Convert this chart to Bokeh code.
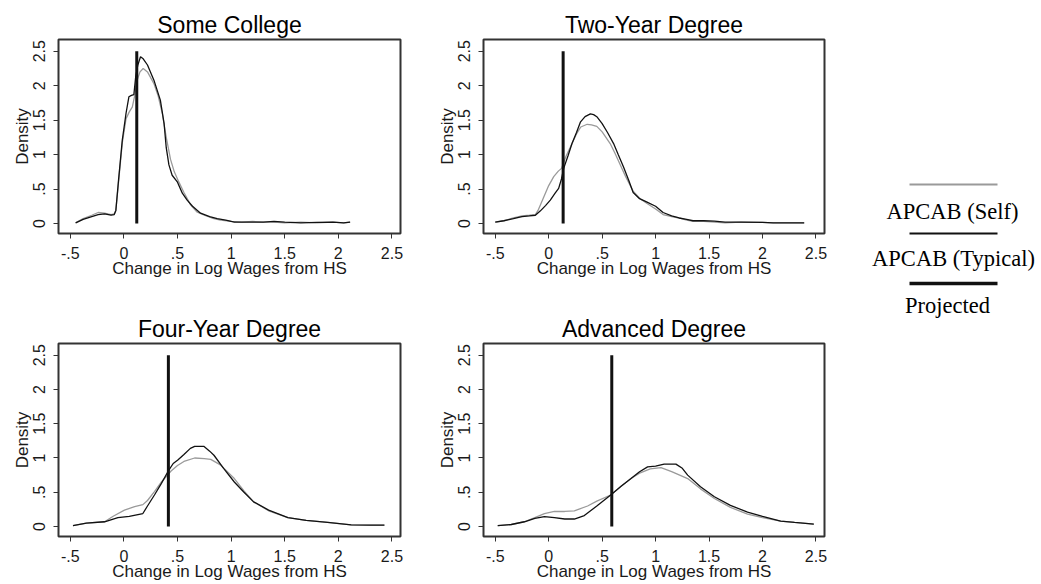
from bokeh.plotting import figure
from bokeh.layouts import row, column
from bokeh.models import Range1d, FixedTicker, CustomJSTickFormatter
from bokeh.embed import file_html
from bokeh.resources import INLINE
from bokeh.core.properties import value

# ---------------- data ----------------
panel_titles = ["Some College", "Two-Year Degree", "Four-Year Degree", "Advanced Degree"]
x_label = "Change in Log Wages from HS"
y_label = "Density"
x_ticks = [-0.5, 0, 0.5, 1, 1.5, 2, 2.5]
y_ticks = [0, 0.5, 1, 1.5, 2, 2.5]
legend_labels = ["APCAB (Self)", "APCAB (Typical)", "Projected"]

# projected (vertical line) values and its vertical extent
projected = [0.12, 0.135, 0.415, 0.59]
projected_top = 2.5

# Some College
sc_typ_x = [-0.45, -0.38, -0.30, -0.24, -0.18, -0.12, -0.09, -0.075, -0.05, -0.015, 0.02, 0.047, 0.07, 0.093,
            0.11, 0.13, 0.155, 0.18, 0.22, 0.28, 0.34, 0.375, 0.395, 0.42, 0.45, 0.50, 0.545, 0.59, 0.64, 0.715,
            0.80, 0.87, 0.95, 1.03, 1.15, 1.3, 1.4, 1.5, 1.65, 1.8, 1.95, 2.05, 2.11]
sc_typ_y = [0.01, 0.06, 0.10, 0.13, 0.14, 0.12, 0.13, 0.19, 0.63, 1.21, 1.60, 1.84, 1.86, 1.87,
            2.13, 2.30, 2.42, 2.39, 2.30, 2.08, 1.79, 1.45, 1.10, 0.85, 0.70, 0.60, 0.44, 0.34, 0.25, 0.15,
            0.10, 0.07, 0.05, 0.02, 0.02, 0.02, 0.03, 0.02, 0.01, 0.015, 0.02, 0.01, 0.02]
sc_self_x = [-0.45, -0.38, -0.30, -0.24, -0.18, -0.12, -0.09, -0.075, -0.05, -0.015, 0.02, 0.05, 0.078, 0.10,
             0.124, 0.15, 0.18, 0.22, 0.28, 0.32, 0.358, 0.395, 0.435, 0.47, 0.513, 0.56, 0.622, 0.68, 0.75,
             0.82, 0.90, 1.0, 1.1, 1.2, 1.3, 1.4, 1.5, 1.65, 1.8, 1.95, 2.05, 2.11]
sc_self_y = [0.01, 0.07, 0.12, 0.16, 0.15, 0.13, 0.14, 0.19, 0.60, 1.17, 1.52, 1.62, 1.69, 1.85,
             2.08, 2.20, 2.25, 2.20, 2.03, 1.85, 1.60, 1.25, 0.93, 0.75, 0.60, 0.45, 0.27, 0.17, 0.12,
             0.08, 0.05, 0.03, 0.02, 0.03, 0.02, 0.02, 0.01, 0.02, 0.01, 0.02, 0.01, 0.02]

# Two-Year Degree
ty_typ_x = [-0.50, -0.42, -0.33, -0.25, -0.18, -0.125, -0.08, -0.03, 0.015, 0.06, 0.093, 0.12, 0.14, 0.18,
            0.218, 0.26, 0.296, 0.34, 0.39, 0.42, 0.45, 0.50, 0.55, 0.607, 0.65, 0.70, 0.75, 0.79, 0.85,
            0.92, 1.0, 1.07, 1.15, 1.22, 1.29, 1.35, 1.45, 1.55, 1.65, 1.8, 2.0, 2.1, 2.2, 2.39]
ty_typ_y = [0.02, 0.04, 0.07, 0.10, 0.11, 0.12, 0.18, 0.26, 0.34, 0.44, 0.51, 0.65, 0.80, 0.98,
            1.16, 1.32, 1.47, 1.55, 1.59, 1.58, 1.55, 1.45, 1.32, 1.16, 1.00, 0.82, 0.62, 0.45, 0.36,
            0.31, 0.25, 0.16, 0.11, 0.08, 0.06, 0.04, 0.04, 0.035, 0.02, 0.02, 0.015, 0.01, 0.01, 0.01]
ty_self_x = [-0.50, -0.42, -0.33, -0.25, -0.18, -0.125, -0.10, -0.05, 0.0, 0.047, 0.09, 0.12, 0.16, 0.218,
             0.26, 0.30, 0.36, 0.40, 0.45, 0.50, 0.575, 0.62, 0.67, 0.72, 0.79, 0.855, 0.92, 1.0, 1.07,
             1.15, 1.22, 1.29, 1.35, 1.45, 1.55, 1.65, 1.8, 2.0, 2.1, 2.2, 2.39]
ty_self_y = [0.02, 0.04, 0.08, 0.11, 0.12, 0.13, 0.19, 0.37, 0.55, 0.68, 0.76, 0.80, 0.97, 1.16,
             1.30, 1.40, 1.44, 1.43, 1.41, 1.33, 1.16, 1.02, 0.85, 0.68, 0.47, 0.36, 0.29, 0.21, 0.13,
             0.10, 0.08, 0.05, 0.03, 0.03, 0.02, 0.01, 0.02, 0.015, 0.01, 0.01, 0.01]

# Four-Year Degree
fy_typ_x = [-0.475, -0.35, -0.18, -0.10, -0.056, 0.05, 0.177, 0.22, 0.285, 0.35, 0.41, 0.46, 0.503, 0.56,
            0.62, 0.66, 0.745, 0.80, 0.84, 0.93, 1.03, 1.12, 1.21, 1.35, 1.53, 1.7, 1.9, 2.12, 2.3, 2.43]
fy_typ_y = [0.015, 0.05, 0.07, 0.11, 0.13, 0.15, 0.19, 0.30, 0.46, 0.63, 0.80, 0.92, 0.97, 1.05,
            1.14, 1.17, 1.17, 1.10, 1.04, 0.85, 0.65, 0.50, 0.36, 0.24, 0.13, 0.09, 0.06, 0.025, 0.02, 0.02]
fy_self_x = [-0.475, -0.35, -0.18, -0.10, 0.005, 0.10, 0.177, 0.22, 0.285, 0.35, 0.44, 0.50, 0.56, 0.66,
             0.75, 0.81, 0.90, 1.03, 1.12, 1.21, 1.35, 1.53, 1.7, 1.9, 2.12, 2.3, 2.43]
fy_self_y = [0.015, 0.05, 0.07, 0.15, 0.24, 0.29, 0.32, 0.38, 0.51, 0.65, 0.81, 0.89, 0.95, 1.00,
             0.99, 0.98, 0.90, 0.70, 0.52, 0.36, 0.23, 0.13, 0.09, 0.06, 0.025, 0.02, 0.02]

# Advanced Degree
ad_typ_x = [-0.477, -0.35, -0.227, -0.13, -0.04, 0.053, 0.15, 0.24, 0.333, 0.45, 0.58, 0.68, 0.77, 0.85,
            0.925, 1.0, 1.08, 1.19, 1.25, 1.30, 1.42, 1.55, 1.70, 1.86, 2.0, 2.17, 2.3, 2.48]
ad_typ_y = [0.015, 0.03, 0.07, 0.12, 0.145, 0.13, 0.11, 0.11, 0.16, 0.30, 0.46, 0.59, 0.70, 0.80,
            0.87, 0.88, 0.91, 0.91, 0.85, 0.75, 0.58, 0.435, 0.31, 0.21, 0.15, 0.08, 0.06, 0.035]
ad_self_x = [-0.477, -0.35, -0.227, -0.13, -0.04, 0.053, 0.15, 0.24, 0.364, 0.45, 0.58, 0.68, 0.77, 0.85,
             0.95, 1.05, 1.15, 1.30, 1.42, 1.55, 1.70, 1.86, 2.0, 2.17, 2.3, 2.48]
ad_self_y = [0.015, 0.03, 0.07, 0.13, 0.19, 0.22, 0.22, 0.23, 0.30, 0.37, 0.46, 0.59, 0.70, 0.78,
             0.84, 0.86, 0.80, 0.70, 0.55, 0.41, 0.28, 0.18, 0.13, 0.08, 0.06, 0.035]

self_series = [(sc_self_x, sc_self_y), (ty_self_x, ty_self_y), (fy_self_x, fy_self_y), (ad_self_x, ad_self_y)]
typ_series = [(sc_typ_x, sc_typ_y), (ty_typ_x, ty_typ_y), (fy_typ_x, fy_typ_y), (ad_typ_x, ad_typ_y)]

# ---------------- style ----------------
SANS = "Liberation Sans"
SERIF = "Liberation Serif"
GRAY = "#9a9a9a"
BLACK = "#111111"

fmt = CustomJSTickFormatter(code="""
var s = String(Math.round(tick*10)/10);
return s.replace(/^(-?)0\\./, '$1.');
""")


def make_panel(i, width, height, mbl, mbr, mbt, mbb):
    p = figure(width=width, height=height, output_backend="svg", toolbar_location=None,
               x_range=Range1d(-0.61, 2.58), y_range=Range1d(-0.145, 2.67),
               min_border_left=mbl, min_border_right=mbr, min_border_top=mbt, min_border_bottom=mbb,
               x_axis_label=x_label, y_axis_label=y_label)
    p.title.text = panel_titles[i]
    p.title.text_font = SANS
    p.title.text_font_size = "23px"
    p.title.text_font_style = "normal"
    p.title.text_color = "#000000"
    p.title.align = "center"
    p.title.standoff = 4
    p.grid.visible = False
    p.outline_line_color = "#333333"
    p.outline_line_width = 2
    p.background_fill_color = "white"
    p.border_fill_color = "white"
    for ax in (p.xaxis[0], p.yaxis[0]):
        ax.axis_line_color = None
        ax.major_tick_out = 5
        ax.major_tick_in = 0
        ax.minor_tick_line_color = None
        ax.major_tick_line_color = "#333333"
        ax.major_tick_line_width = 1
        ax.major_label_text_font = SANS
        ax.major_label_text_font_size = "16px"
        ax.major_label_text_color = "#1a1a1a"
        ax.axis_label_text_font = SANS
        ax.axis_label_text_font_size = "17px"
        ax.axis_label_text_font_style = "normal"
        ax.axis_label_text_color = "#1a1a1a"
        ax.formatter = fmt
    p.xaxis[0].ticker = FixedTicker(ticks=x_ticks)
    p.yaxis[0].ticker = FixedTicker(ticks=y_ticks)
    p.xaxis[0].major_label_standoff = 8
    p.xaxis[0].axis_label_standoff = -3
    p.yaxis[0].major_label_orientation = "vertical"
    p.yaxis[0].major_label_standoff = 8
    p.yaxis[0].axis_label_standoff = -1

    sx, sy = self_series[i]
    tx, ty = typ_series[i]
    p.line(sx, sy, line_color=GRAY, line_width=1.3)
    p.line(tx, ty, line_color=BLACK, line_width=1.3)
    p.line([projected[i], projected[i]], [0, projected_top], line_color=BLACK, line_width=3)
    return p


p1 = make_panel(0, 420, 296, 58, 20, 39, 63)
p2 = make_panel(1, 425, 296, 63, 21, 39, 63)
p3 = make_panel(2, 420, 287, 58, 20, 47, 45)
p4 = make_panel(3, 425, 287, 63, 21, 47, 45)

# ---------------- legend panel ----------------
LW, LH = 195, 583
leg = figure(width=LW, height=LH, output_backend="svg", toolbar_location=None,
             x_range=Range1d(0, LW), y_range=Range1d(LH, 0), min_border=0)
leg.axis.visible = False
leg.grid.visible = False
leg.outline_line_color = None
leg_line_y = [184, 233, 283]
leg_text_y = [211, 258, 305]
leg_text_x = [107, 108, 102]
leg_colors = [GRAY, BLACK, BLACK]
leg_widths = [2, 2, 3.5]
for k in range(3):
    leg.line([64, 152], [leg_line_y[k], leg_line_y[k]], line_color=leg_colors[k], line_width=leg_widths[k])
leg.text(x=leg_text_x, y=leg_text_y, text=legend_labels, text_font=value(SERIF), text_font_size="22.5px",
         text_align="center", text_baseline="middle", text_color="#000000")

layout = row(column(row(p1, p2), row(p3, p4)), leg)

open("out.html", "w").write(file_html(layout, INLINE))
